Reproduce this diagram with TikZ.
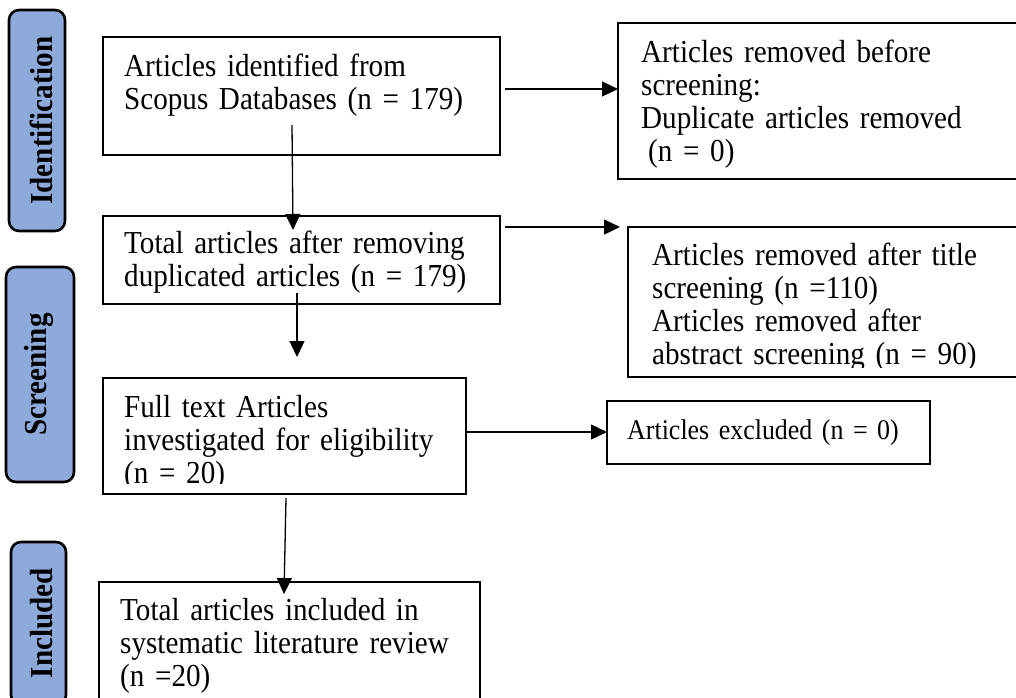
\documentclass[tikz,border=0pt]{standalone}
\usepackage{fontspec}
\setmainfont[FakeStretch=0.91]{Liberation Serif}
\usetikzlibrary{arrows.meta,calc}
\definecolor{lblfill}{HTML}{8EAADB}
\newcommand{\mybigfont}{\fontsize{32}{33}\selectfont\spaceskip=5pt plus 1pt minus 1pt\relax}
\newcommand{\mysmallfont}{\fontsize{28.5}{30}\selectfont\spaceskip=4.5pt plus 1pt minus 1pt\relax}
\begin{document}
\begin{tikzpicture}[x=1pt,y=-1pt,
  box/.style={draw=black, line width=2.6pt, rectangle, inner sep=0pt, outer sep=0pt},
  lbl/.style={draw=black, line width=2.6pt, fill=lblfill, rounded corners=10pt, inner sep=0pt, outer sep=0pt},
  lbltxt/.style={rotate=90, inner sep=0pt, font=\fontsize{32}{33}\selectfont\bfseries},
  txt/.style={anchor=base west, inner sep=0pt, align=left, text width=480pt, font=\mybigfont},
  smalltxt/.style={anchor=base west, inner sep=0pt, align=left, text width=400pt, font=\mysmallfont},
  arr/.style={line width=1.3pt, -{Triangle[length=16pt,width=15pt]}}]
\useasboundingbox (0,0) rectangle (1016,697);
\clip (0,0) rectangle (1016,697);
\fill[white] (0,0) rectangle (1016,697);

% stage labels
\node[lbl, minimum width=56pt, minimum height=221pt] (idl) at (37,120.5) {};
\node[lbltxt] (idt) at (41,120.5) {Identification};
\node[lbl, minimum width=68pt, minimum height=215pt] (scl) at (40,374.5) {};
\node[lbltxt] (sct) at (39,374.5) {Screening};
\node[lbl, minimum width=55pt, minimum height=163pt] (inl) at (38.5,623.5) {};
\node[lbltxt] (int) at (42,623) {Included};

% main boxes
\node[box, minimum width=397pt, minimum height=118pt] (b1) at (301.5,96) {};
\node[box, minimum width=397pt, minimum height=88pt] (b2) at (301.5,260) {};
\node[box, minimum width=363pt, minimum height=116pt] (b3) at (284.5,436) {};
\node[box, minimum width=381pt, minimum height=138pt] (b4) at (289.5,651) {};
\node[box, minimum width=422pt, minimum height=156pt] (r1) at (829,101) {};
\node[box, minimum width=412pt, minimum height=150pt] (r2) at (834,302) {};
\node[box, minimum width=323pt, minimum height=63pt] (r3) at (768.5,432.5) {};

% texts
\node[txt] (t1) at (124,76) {Articles identified from\\Scopus Databases (n = 179)};
\node[txt] (t2) at (124,253) {Total articles after removing\\duplicated articles (n = 179)};
\begin{scope}
\clip (100,370) rectangle (470,483);
\node[txt] (t3) at (124,417) {Full text Articles\\investigated for eligibility\\(n = 20)};
\end{scope}
\node[txt] (t4) at (120,620) {Total articles included in\\systematic literature review\\(n =20)};
\node[txt] (t5) at (641,62) {Articles removed before\\screening:\\Duplicate articles removed\\\hspace*{7pt}(n = 0)};
\begin{scope}
\clip (630,230) rectangle (1016,367);
\node[txt] (t6) at (652,265) {Articles removed after title\\screening (n =110)\\Articles removed after\\abstract screening (n = 90)};
\end{scope}
\node[smalltxt] (t7) at (627,439) {Articles excluded (n = 0)};

% connectors
\draw[arr] ($(b1.north east)+(5,52)$) -- ($(r1.north west)+(0,66)$);
\draw[arr] ($(b2.north east)+(5,11)$) -- ($(r2.north west)+(-8,0)$);
\draw[arr] ($(b1.north west)+(189,88)$) -- ($(b2.north west)+(190,14)$);
\draw[arr] ($(b2.north west)+(194,77)$) -- ($(b3.north west)+(194,-21)$);
\draw[arr] ($(b3.south west)+(183,4)$) -- ($(b4.north west)+(185,12)$);
\draw[arr] ($(b3.north east)+(0,54)$) -- ($(r3.north west)+(0,31)$);
\end{tikzpicture}
\end{document}
